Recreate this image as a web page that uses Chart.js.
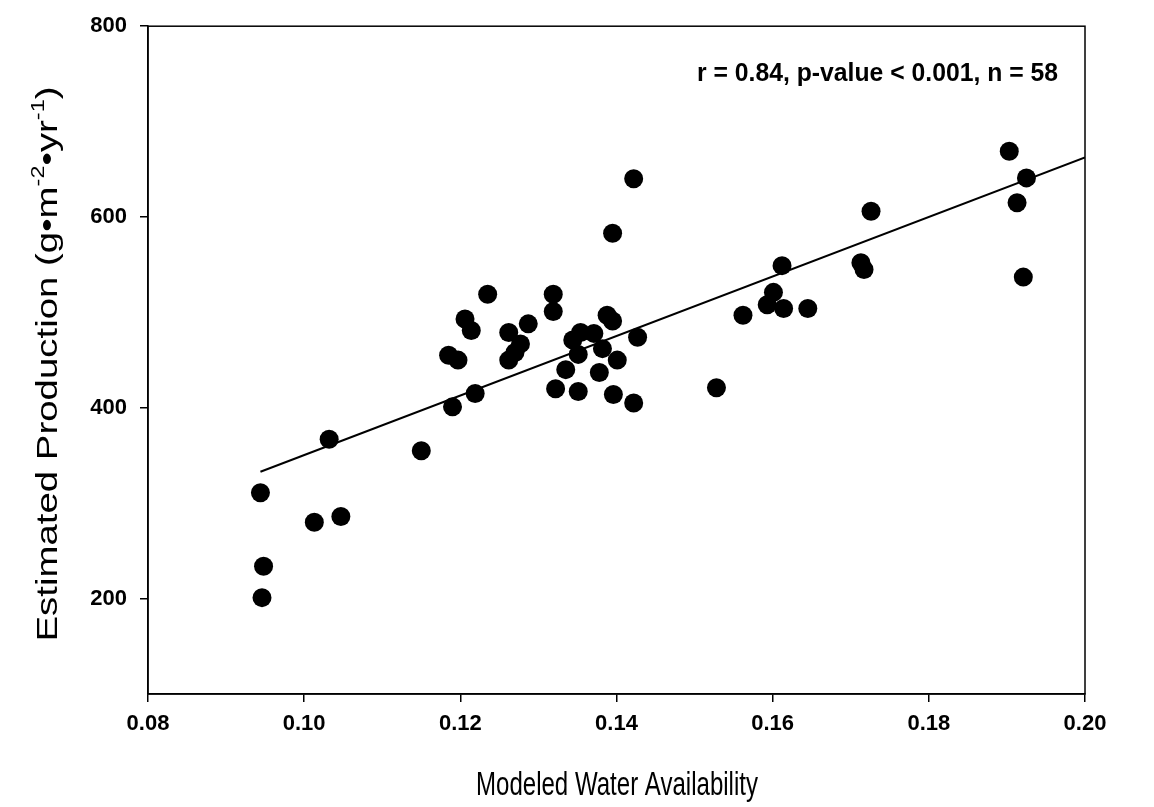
<!DOCTYPE html>
<html>
<head>
<meta charset="utf-8">
<script src="https://cdn.jsdelivr.net/npm/chart.js@4.4.0/dist/chart.umd.min.js"></script>
<style>
  html, body { margin: 0; padding: 0; background: #fff; }
  #wrap { width: 1154px; height: 807px; }
</style>
</head>
<body>
<div id="wrap"><canvas id="myChart" width="1154" height="807"></canvas></div>
<script>
// water availability vs production, one entry per site
const waterAvail = [
    0.0944, 0.0948, 0.0946, 0.1013, 0.1047, 0.1032, 0.1150, 0.1190, 0.1219, 0.1185,
    0.1197, 0.1206, 0.1214, 0.1235, 0.1262, 0.1287, 0.1277, 0.1262, 0.1270, 0.1319,
    0.1319, 0.1335, 0.1322, 0.1351, 0.1354, 0.1371, 0.1344, 0.1351, 0.1382, 0.1388,
    0.1395, 0.1401, 0.1378, 0.1396, 0.1422, 0.1427, 0.1395, 0.1422, 0.1528, 0.1562,
    0.1593, 0.1601, 0.1614, 0.1612, 0.1645, 0.1713, 0.1717, 0.1726, 0.1903, 0.1925,
    0.1913, 0.1921
];
const production = [
    311, 234, 201, 280, 286, 367, 355, 401, 415, 455,
    450, 493, 481, 519, 479, 488, 467, 450, 458, 519,
    501, 440, 420, 417, 479, 478, 471, 456, 462, 497,
    491, 450, 437, 414, 405, 474, 583, 640, 421, 497,
    508, 521, 504, 549, 504, 552, 545, 606, 669, 641,
    615, 537
];

// fitted line: production = fitIntercept + fitSlope * water
const fitIntercept = 38.5;
const fitSlope = 3120;
const fitRange = [0.0944, 0.20];

const xTicks = [0.08, 0.10, 0.12, 0.14, 0.16, 0.18, 0.20];
const yTicks = [200, 400, 600, 800];

const statsText = "r = 0.84, p-value < 0.001, n = 58";
const xTitle = "Modeled Water Availability";

const points = waterAvail.map((w, i) => ({ x: w, y: production[i] }));
const fitLine = fitRange.map((w) => ({ x: w, y: fitIntercept + fitSlope * w }));

const tickFont = { family: "'Liberation Sans', Arial, sans-serif", size: 22, weight: 'bold' };

// frame, axis titles and the stats line
const decorations = {
    id: 'decorations',
    afterDraw(chart) {
        const ctx = chart.ctx;
        const a = chart.chartArea;
        ctx.save();
        ctx.strokeStyle = '#000';
        ctx.lineWidth = 1.5;
        ctx.strokeRect(a.left, a.top, a.right - a.left, a.bottom - a.top);

        ctx.fillStyle = '#000';
        ctx.textBaseline = 'alphabetic';

        // stats, narrowed to fit
        ctx.font = "bold 26px 'Liberation Sans', Arial, sans-serif";
        ctx.textAlign = 'right';
        ctx.fillText(statsText, 1058, 81, 361);

        // x title, narrowed
        ctx.font = "33px 'Liberation Sans', Arial, sans-serif";
        ctx.textAlign = 'center';
        ctx.fillText(xTitle, 617, 795, 282);

        // y title with superscripts, rotated
        const parts = [
            { t: 'Estimated Production (g\u2022m', sup: false },
            { t: '-2', sup: true },
            { t: '\u2022yr', sup: false },
            { t: '-1', sup: true },
            { t: ')', sup: false }
        ];
        const big = "36px 'Liberation Sans', Arial, sans-serif";
        const small = "22px 'Liberation Sans', Arial, sans-serif";
        let total = 0;
        parts.forEach((p) => {
            ctx.font = p.sup ? small : big;
            p.w = ctx.measureText(p.t).width;
            total += p.w;
        });
        ctx.translate(57, 364);
        ctx.rotate(-Math.PI / 2);
        ctx.scale(555 / total, 0.8);
        ctx.textAlign = 'left';
        let x = -total / 2;
        parts.forEach((p) => {
            ctx.font = p.sup ? small : big;
            ctx.fillText(p.t, x, p.sup ? -16 : 0);
            x += p.w;
        });
        ctx.restore();
    }
};

const ctx = document.getElementById('myChart').getContext('2d');
const myChart = new Chart(ctx, {
    type: 'scatter',
    data: {
        datasets: [{
            label: 'sites',
            data: points,
            backgroundColor: '#000',
            borderWidth: 0,
            pointRadius: 9.5,
            pointHoverRadius: 9.5
        }, {
            type: 'line',
            label: 'fit',
            data: fitLine,
            borderColor: '#000',
            borderWidth: 2,
            pointRadius: 0,
            fill: false
        }]
    },
    options: {
        responsive: false,
        animation: false,
        layout: {
            padding: { left: 0, top: 22, right: 69, bottom: 0 }
        },
        plugins: {
            legend: { display: false },
            tooltip: { enabled: false }
        },
        scales: {
            x: {
                type: 'linear',
                min: 0.08,
                max: 0.20,
                afterBuildTicks: (s) => { s.ticks = xTicks.map((v) => ({ value: v })); },
                afterFit: (s) => { s.height = 113; },
                ticks: {
                    callback: (v) => v.toFixed(2),
                    font: tickFont,
                    color: '#000',
                    padding: 9,
                    maxRotation: 0
                },
                grid: { drawOnChartArea: false, tickLength: 8, color: '#000', lineWidth: 1.5 },
                border: { color: '#000', width: 1.5 }
            },
            y: {
                min: 100,
                max: 800,
                afterBuildTicks: (s) => { s.ticks = yTicks.map((v) => ({ value: v })); },
                afterFit: (s) => { s.width = 148; },
                ticks: {
                    font: tickFont,
                    color: '#000',
                    padding: 13
                },
                grid: { drawOnChartArea: false, tickLength: 8, color: '#000', lineWidth: 1.5 },
                border: { color: '#000', width: 1.5 }
            }
        }
    },
    plugins: [decorations]
});
</script>
</body>
</html>
